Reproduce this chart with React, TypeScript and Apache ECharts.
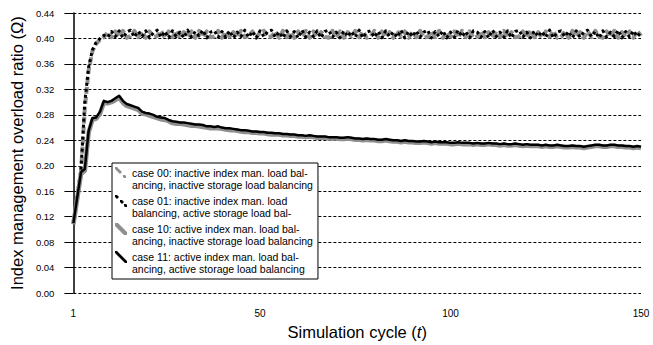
import React, { useEffect, useRef } from "react";
import * as echarts from "echarts";

const cycles: string[] = Array.from({ length: 150 }, (_, i) => String(i + 1));
const xTickLabels = ["1", "50", "100", "150"];
const yMin = 0;
const yMax = 0.44;
const yStep = 0.04;

const seriesNames = [
  "case 00: inactive index man. load bal-\nancing, inactive storage load balancing",
  "case 01: inactive index man. load\nbalancing, active storage load bal-",
  "case 10: active index man. load bal-\nancing, inactive storage load balancing",
  "case 11: active index man. load bal-\nancing, active storage load balancing",
];

// case 00: inactive index LB, inactive storage LB (gray dashed)
const case00 = [
  0.110, 0.150, 0.190, 0.290, 0.350, 0.380, 0.392, 0.398, 0.402, 0.410,
  0.402, 0.411, 0.403, 0.412, 0.401, 0.404, 0.412, 0.402, 0.411, 0.401,
  0.411, 0.402, 0.404, 0.412, 0.401, 0.411, 0.402, 0.412, 0.401, 0.410,
  0.403, 0.411, 0.401, 0.412, 0.402, 0.411, 0.402, 0.403, 0.412, 0.401,
  0.411, 0.403, 0.410, 0.401, 0.412, 0.402, 0.404, 0.411, 0.401, 0.410,
  0.412, 0.402, 0.403, 0.411, 0.401, 0.412, 0.402, 0.410, 0.401, 0.411,
  0.403, 0.412, 0.401, 0.411, 0.402, 0.410, 0.403, 0.401, 0.412, 0.402,
  0.411, 0.401, 0.410, 0.403, 0.412, 0.402, 0.411, 0.401, 0.403, 0.412,
  0.401, 0.411, 0.402, 0.410, 0.401, 0.412, 0.403, 0.411, 0.401, 0.410,
  0.402, 0.412, 0.401, 0.403, 0.411, 0.402, 0.412, 0.401, 0.410, 0.403,
  0.411, 0.401, 0.412, 0.402, 0.411, 0.401, 0.403, 0.412, 0.402, 0.410,
  0.401, 0.411, 0.403, 0.412, 0.401, 0.410, 0.402, 0.403, 0.411, 0.401,
  0.412, 0.402, 0.410, 0.401, 0.411, 0.403, 0.412, 0.401, 0.402, 0.411,
  0.401, 0.412, 0.403, 0.410, 0.401, 0.411, 0.402, 0.412, 0.403, 0.401,
  0.411, 0.402, 0.412, 0.401, 0.410, 0.403, 0.411, 0.401, 0.412, 0.404,
];

// case 01: inactive index LB, active storage LB (black dotted)
const case01 = [
  0.110, 0.155, 0.195, 0.300, 0.355, 0.382, 0.394, 0.400, 0.405, 0.402,
  0.411, 0.403, 0.412, 0.401, 0.410, 0.413, 0.402, 0.411, 0.403, 0.412,
  0.401, 0.409, 0.413, 0.402, 0.411, 0.401, 0.412, 0.403, 0.410, 0.401,
  0.413, 0.402, 0.411, 0.404, 0.413, 0.401, 0.410, 0.412, 0.402, 0.411,
  0.402, 0.412, 0.401, 0.410, 0.403, 0.413, 0.402, 0.411, 0.401, 0.412,
  0.403, 0.411, 0.413, 0.402, 0.410, 0.401, 0.412, 0.403, 0.411, 0.401,
  0.413, 0.402, 0.410, 0.403, 0.412, 0.401, 0.411, 0.413, 0.402, 0.410,
  0.401, 0.412, 0.403, 0.411, 0.402, 0.413, 0.401, 0.410, 0.412, 0.402,
  0.411, 0.401, 0.412, 0.403, 0.410, 0.402, 0.413, 0.401, 0.411, 0.403,
  0.412, 0.402, 0.410, 0.413, 0.401, 0.411, 0.403, 0.412, 0.401, 0.410,
  0.402, 0.413, 0.403, 0.411, 0.401, 0.412, 0.410, 0.402, 0.411, 0.401,
  0.413, 0.403, 0.410, 0.402, 0.412, 0.401, 0.411, 0.413, 0.402, 0.410,
  0.401, 0.412, 0.403, 0.411, 0.402, 0.413, 0.401, 0.410, 0.412, 0.403,
  0.411, 0.401, 0.412, 0.402, 0.410, 0.413, 0.403, 0.411, 0.401, 0.412,
  0.402, 0.410, 0.403, 0.413, 0.401, 0.411, 0.402, 0.412, 0.403, 0.410,
];

// case 10: active index LB, inactive storage LB (gray solid)
const case10 = [
  0.108, 0.148, 0.187, 0.192, 0.252, 0.272, 0.274, 0.282, 0.299, 0.298,
  0.300, 0.303, 0.307, 0.299, 0.294, 0.292, 0.290, 0.288, 0.282, 0.281,
  0.279, 0.277, 0.275, 0.273, 0.272, 0.270, 0.267, 0.266, 0.266, 0.265,
  0.264, 0.263, 0.263, 0.262, 0.261, 0.260, 0.259, 0.259, 0.259, 0.258,
  0.257, 0.256, 0.256, 0.255, 0.254, 0.253, 0.253, 0.252, 0.252, 0.251,
  0.251, 0.250, 0.249, 0.249, 0.249, 0.248, 0.248, 0.247, 0.247, 0.246,
  0.246, 0.245, 0.246, 0.245, 0.244, 0.244, 0.244, 0.243, 0.243, 0.243,
  0.242, 0.242, 0.243, 0.242, 0.241, 0.241, 0.240, 0.241, 0.240, 0.240,
  0.239, 0.239, 0.240, 0.239, 0.238, 0.238, 0.237, 0.238, 0.237, 0.237,
  0.236, 0.236, 0.237, 0.236, 0.235, 0.236, 0.235, 0.235, 0.235, 0.234,
  0.234, 0.235, 0.234, 0.234, 0.234, 0.233, 0.234, 0.233, 0.233, 0.234,
  0.233, 0.233, 0.232, 0.233, 0.232, 0.232, 0.233, 0.232, 0.231, 0.232,
  0.231, 0.231, 0.231, 0.230, 0.231, 0.230, 0.230, 0.231, 0.230, 0.229,
  0.229, 0.230, 0.229, 0.229, 0.228, 0.229, 0.230, 0.231, 0.231, 0.230,
  0.230, 0.231, 0.231, 0.230, 0.230, 0.229, 0.229, 0.228, 0.229, 0.228,
];

// case 11: active index LB, active storage LB (black solid)
const case11 = [
  0.110, 0.150, 0.190, 0.195, 0.255, 0.275, 0.276, 0.285, 0.302, 0.300,
  0.302, 0.306, 0.310, 0.302, 0.297, 0.295, 0.293, 0.291, 0.285, 0.283,
  0.282, 0.280, 0.277, 0.276, 0.275, 0.272, 0.270, 0.269, 0.268, 0.268,
  0.267, 0.266, 0.265, 0.265, 0.264, 0.262, 0.262, 0.261, 0.262, 0.260,
  0.259, 0.259, 0.258, 0.257, 0.256, 0.256, 0.255, 0.254, 0.254, 0.253,
  0.253, 0.252, 0.252, 0.251, 0.251, 0.250, 0.250, 0.249, 0.249, 0.248,
  0.248, 0.247, 0.248, 0.247, 0.246, 0.246, 0.246, 0.245, 0.245, 0.245,
  0.244, 0.244, 0.245, 0.244, 0.243, 0.243, 0.242, 0.243, 0.242, 0.242,
  0.241, 0.241, 0.242, 0.241, 0.240, 0.240, 0.239, 0.240, 0.239, 0.239,
  0.238, 0.238, 0.239, 0.238, 0.237, 0.238, 0.237, 0.237, 0.237, 0.236,
  0.236, 0.237, 0.236, 0.236, 0.236, 0.235, 0.236, 0.235, 0.235, 0.236,
  0.235, 0.235, 0.234, 0.235, 0.234, 0.234, 0.235, 0.234, 0.233, 0.234,
  0.233, 0.233, 0.233, 0.232, 0.233, 0.232, 0.232, 0.233, 0.232, 0.231,
  0.231, 0.232, 0.231, 0.231, 0.230, 0.231, 0.232, 0.233, 0.233, 0.232,
  0.232, 0.233, 0.233, 0.232, 0.232, 0.231, 0.231, 0.230, 0.231, 0.230,
];

const GRAY = "#8f8f8f";
const BLACK = "#000000";
const FONT = "Liberation Sans, Arial, sans-serif";

// legend icons: diagonal strokes (top half of a 12x24 box)
const ICON_DASH =
  "path://M0,0 L2,0 L7,5 L5,7 L0,2 Z M8,8 L10,8 L11,9 L11,11 L9,11 L8,10 Z M12,24 L12,24 Z";
const ICON_DOT =
  "path://M0,0 L2,0 L4,2 L2,4 L0,2 Z M5,5 L7,5 L9,7 L7,9 L5,7 Z M9,9 L11,9 L12,10 L12,12 L10,12 L9,11 Z M0,24 L0,24 Z";
const ICON_THICK = "path://M0,0 L3,0 L12,9 L12,12 L9,12 L0,3 Z M12,24 L12,24 Z";
const ICON_THIN = "path://M0,0 L2,0 L12,10 L12,12 L10,12 L0,2 Z M12,24 L12,24 Z";

export default function App() {
  const ref = useRef<HTMLDivElement>(null);
  useEffect(() => {
    if (!ref.current) return;
    const chart = echarts.init(ref.current, null, { renderer: "svg" });
    const mk = (
      name: string,
      data: number[],
      color: string,
      width: number,
      type: any,
      z: number
    ) => ({
      name,
      type: "line",
      data,
      symbol: "none",
      showSymbol: false,
      z,
      itemStyle: { color },
      lineStyle: { color, width, type, cap: "butt", join: "round" },
    });
    chart.setOption({
      animation: false,
      backgroundColor: "#ffffff",
      grid: { left: 72, right: 12, top: 13, bottom: 49 },
      legend: {
        orient: "vertical",
        left: 112,
        top: 163,
        padding: [4, 5, 4, 3],
        itemGap: 4,
        itemWidth: 12,
        itemHeight: 24,
        backgroundColor: "#ffffff",
        borderColor: "#000000",
        borderWidth: 1,
        borderRadius: 0,
        selectedMode: false,
        textStyle: {
          fontFamily: FONT,
          fontSize: 10.5,
          lineHeight: 12,
          color: "#000",
        },
        data: [
          { name: seriesNames[0], icon: ICON_DASH, itemStyle: { color: GRAY } },
          { name: seriesNames[1], icon: ICON_DOT, itemStyle: { color: BLACK } },
          { name: seriesNames[2], icon: ICON_THICK, itemStyle: { color: GRAY } },
          { name: seriesNames[3], icon: ICON_THIN, itemStyle: { color: BLACK } },
        ],
      },
      xAxis: {
        type: "category",
        data: cycles,
        boundaryGap: false,
        name: "Simulation cycle ({i|t})",
        nameLocation: "middle",
        nameGap: 27,
        nameTextStyle: {
          fontFamily: FONT,
          fontSize: 16.5,
          color: "#000",
          rich: {
            i: { fontFamily: FONT, fontSize: 16.5, fontStyle: "italic", color: "#000" },
          },
        },
        axisLine: { show: false },
        axisTick: { show: false },
        splitLine: { show: false },
        axisLabel: {
          interval: (_i: number, v: string) => xTickLabels.includes(v),
          margin: 15,
          fontFamily: FONT,
          fontSize: 10,
          color: "#000",
        },
      },
      yAxis: {
        type: "value",
        min: yMin,
        max: yMax,
        interval: yStep,
        name: "Index management overload ratio (Ω)",
        nameLocation: "middle",
        nameGap: 43,
        nameTextStyle: { fontFamily: FONT, fontSize: 16.5, color: "#000" },
        axisLine: { show: true, lineStyle: { color: "#000", width: 1.5 } },
        axisTick: { show: true, length: 9, lineStyle: { color: "#000", width: 1 } },
        axisLabel: {
          margin: 19,
          fontFamily: FONT,
          fontSize: 9.5,
          color: "#000",
          formatter: (v: number) => v.toFixed(2),
        },
        splitLine: {
          show: true,
          lineStyle: { color: "#000", width: 1, type: [3, 2] },
        },
      },
      series: [
        mk(seriesNames[0], case00, GRAY, 4, [7, 3], 2),
        mk(seriesNames[1], case01, BLACK, 3, [3, 3], 3),
        mk(seriesNames[2], case10, GRAY, 4.5, "solid", 4),
        mk(seriesNames[3], case11, BLACK, 2.5, "solid", 5),
      ],
    });
    return () => chart.dispose();
  }, []);
  return (
    <div
      ref={ref}
      style={{ position: "fixed", left: 0, top: 0, width: 653, height: 345 }}
    />
  );
}
